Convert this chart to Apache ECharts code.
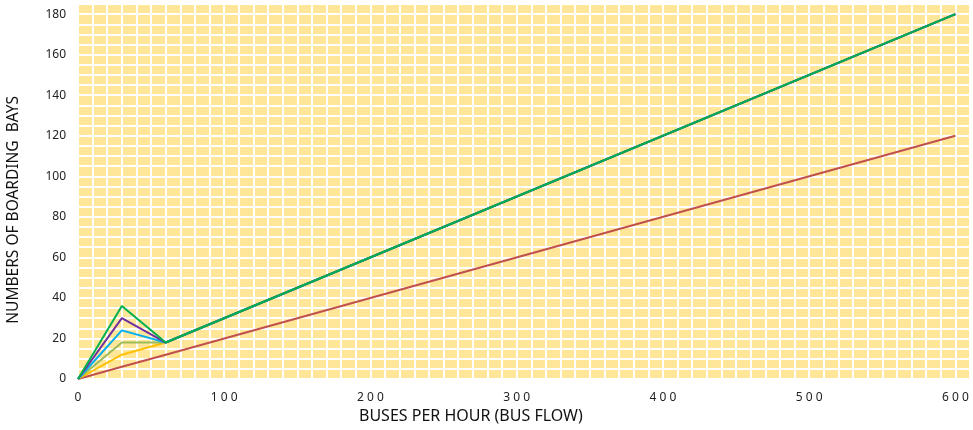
<!DOCTYPE html>
<html>
<head>
<meta charset="utf-8">
<script src="https://cdn.jsdelivr.net/npm/echarts@6/dist/echarts.min.js"></script>
<style>
  html, body { margin: 0; padding: 0; background: #fff; }
  #main { width: 973px; height: 430px; }
</style>
</head>
<body>
<div id="main"></div>
<script>
// bus flow (x) and boarding bays per series
var busFlow = [0, 30, 60, 600];
var seriesNames = ['A', 'B', 'C', 'D', 'E', 'F'];
var redBays = [0, 6, 12, 120];
var yellowBays = [0, 12, 18, 180];
var oliveBays = [0, 18, 18, 180];
var blueBays = [0, 24, 18, 180];
var purpleBays = [0, 30, 18, 180];
var greenBays = [0, 36, 18, 180];

var allBays = [redBays, yellowBays, oliveBays, blueBays, purpleBays, greenBays];
var colors = ['#C0504D', '#FFC000', '#9BBB59', '#00B0F0', '#7030A0', '#00B050'];

var myChart = echarts.init(document.getElementById('main'));

function spaced(v) {
  return String(v).split('').join(' ');
}

var series = allBays.map(function (bays, i) {
  return {
    name: seriesNames[i],
    type: 'line',
    symbol: 'none',
    data: busFlow.map(function (x, j) { return [x, bays[j]]; }),
    lineStyle: { color: colors[i], width: 2 },
    itemStyle: { color: colors[i] },
    z: 2 + i
  };
});

option = {
  animation: false,
  grid: {
    left: 78, right: 0, top: 4, bottom: 51,
    show: true, backgroundColor: '#FFE699', borderWidth: 0
  },
  xAxis: {
    type: 'value', min: 0, max: 610, interval: 10,
    axisLine: { show: false },
    axisTick: { show: false },
    axisLabel: {
      margin: 13,
      color: '#222', fontSize: 12, fontFamily: 'Noto Sans',
      formatter: function (v) { return v % 100 === 0 && v <= 600 ? spaced(v) : ''; }
    },
    splitLine: { show: true, lineStyle: { color: '#ffffff', width: 2 } }
  },
  yAxis: {
    type: 'value', min: 0, max: 185, interval: 5,
    axisLine: { show: false },
    axisTick: { show: false },
    axisLabel: {
      margin: 12,
      color: '#222', fontSize: 12, fontFamily: 'Noto Sans',
      formatter: function (v) { return v % 20 === 0 && v <= 180 ? v : ''; }
    },
    splitLine: { show: true, lineStyle: { color: '#ffffff', width: 2 } }
  },
  graphic: [
    {
      type: 'text', left: 359, top: 408,
      style: { text: 'BUSES PER HOUR (BUS FLOW)', fontSize: 16, fontFamily: 'Noto Sans', fill: '#111' }
    },
    {
      type: 'text', rotation: Math.PI / 2, left: 6, top: 96,
      style: { text: 'NUMBERS OF BOARDING  BAYS', fontSize: 15.5, fontFamily: 'Noto Sans', fill: '#111' }
    }
  ],
  series: series
};

myChart.setOption(option);
</script>
</body>
</html>
